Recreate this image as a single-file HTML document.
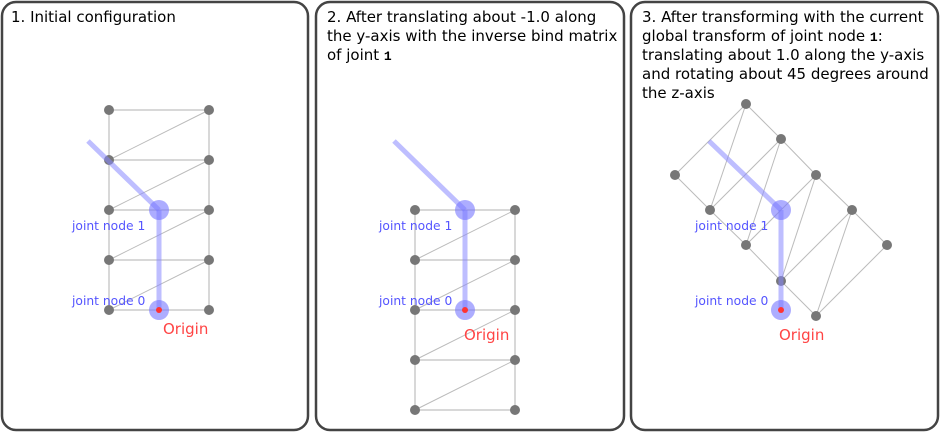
<!DOCTYPE html>
<html><head><meta charset="utf-8"><style>
html,body{margin:0;padding:0;background:#fff;}
svg{display:block;}
text{font-family:"DejaVu Sans","Liberation Sans",sans-serif;}
.t{font-size:15px;fill:#000;}
.lab{font-size:12.3px;fill:#5555ff;}
.org{font-size:15px;fill:#f44;}
.h{stroke:#d8d8d8;stroke-width:2;}
.d{stroke:#bbb;stroke-width:1;}
.n{fill:#777;}
.bone{stroke:#8888ff;stroke-opacity:0.55;stroke-width:5;stroke-linecap:butt;}
.j{fill:#7777ff;fill-opacity:0.6;}
</style></head><body>
<svg width="940" height="432" viewBox="0 0 940 432" xmlns="http://www.w3.org/2000/svg">
<rect x="2" y="2" width="306" height="428" rx="14" fill="#fff" stroke="#444" stroke-width="2.5"/>
<rect x="316" y="2" width="308" height="428" rx="14" fill="#fff" stroke="#444" stroke-width="2.5"/>
<rect x="631" y="2" width="307" height="428" rx="14" fill="#fff" stroke="#444" stroke-width="2.5"/>

<text class="t" x="11" y="22">1. Initial configuration</text>
<text class="t" x="327" y="22">2. After translating about -1.0 along</text>
<text class="t" x="327" y="41">the y-axis with the inverse bind matrix</text>
<text class="t" x="327" y="60">of joint <tspan font-family="Liberation Mono,monospace" font-weight="bold" font-size="13">1</tspan></text>
<text class="t" x="642" y="22">3. After transforming with the current</text>
<text class="t" x="642" y="41">global transform of joint node <tspan font-family="Liberation Mono,monospace" font-weight="bold" font-size="13">1</tspan>:</text>
<text class="t" x="642" y="60">translating about 1.0 along the y-axis</text>
<text class="t" x="642" y="79">and rotating about 45 degrees around</text>
<text class="t" x="642" y="98">the z-axis</text>

<!-- Panel 1 -->
<g>
<line class="h" x1="109" y1="110" x2="109" y2="310"/><line class="h" x1="209" y1="110" x2="209" y2="310"/>
<line class="h" x1="109" y1="110" x2="209" y2="110"/><line class="h" x1="109" y1="160" x2="209" y2="160"/>
<line class="h" x1="109" y1="210" x2="209" y2="210"/><line class="h" x1="109" y1="260" x2="209" y2="260"/>
<line class="h" x1="109" y1="310" x2="209" y2="310"/>
<line class="d" x1="109" y1="160" x2="209" y2="110"/><line class="d" x1="109" y1="210" x2="209" y2="160"/>
<line class="d" x1="109" y1="260" x2="209" y2="210"/><line class="d" x1="109" y1="310" x2="209" y2="260"/>
<g class="n"><circle cx="109" cy="110" r="5"/><circle cx="209" cy="110" r="5"/><circle cx="109" cy="160" r="5"/><circle cx="209" cy="160" r="5"/><circle cx="109" cy="210" r="5"/><circle cx="209" cy="210" r="5"/><circle cx="109" cy="260" r="5"/><circle cx="209" cy="260" r="5"/><circle cx="109" cy="310" r="5"/><circle cx="209" cy="310" r="5"/></g>
<line class="bone" x1="88" y1="141" x2="159" y2="210"/><line class="bone" x1="159" y1="210" x2="159" y2="310"/>
<circle class="j" cx="159" cy="210" r="10"/><circle class="j" cx="159" cy="310" r="10"/>
<circle cx="159" cy="310" r="3" fill="#f33"/>
<text class="lab" x="72" y="230">joint node 1</text>
<text class="lab" x="72" y="305">joint node 0</text>
<text class="org" x="163" y="334">Origin</text>
</g>

<!-- Panel 2 -->
<g>
<line class="h" x1="415" y1="210" x2="415" y2="410"/><line class="h" x1="515" y1="210" x2="515" y2="410"/>
<line class="h" x1="415" y1="210" x2="515" y2="210"/><line class="h" x1="415" y1="260" x2="515" y2="260"/>
<line class="h" x1="415" y1="310" x2="515" y2="310"/><line class="h" x1="415" y1="360" x2="515" y2="360"/>
<line class="h" x1="415" y1="410" x2="515" y2="410"/>
<line class="d" x1="415" y1="260" x2="515" y2="210"/><line class="d" x1="415" y1="310" x2="515" y2="260"/>
<line class="d" x1="415" y1="360" x2="515" y2="310"/><line class="d" x1="415" y1="410" x2="515" y2="360"/>
<g class="n"><circle cx="415" cy="210" r="5"/><circle cx="515" cy="210" r="5"/><circle cx="415" cy="260" r="5"/><circle cx="515" cy="260" r="5"/><circle cx="415" cy="310" r="5"/><circle cx="515" cy="310" r="5"/><circle cx="415" cy="360" r="5"/><circle cx="515" cy="360" r="5"/><circle cx="415" cy="410" r="5"/><circle cx="515" cy="410" r="5"/></g>
<line class="bone" x1="394" y1="141" x2="465" y2="210"/><line class="bone" x1="465" y1="210" x2="465" y2="310"/>
<circle class="j" cx="465" cy="210" r="10"/><circle class="j" cx="465" cy="310" r="10"/>
<circle cx="465" cy="310" r="3" fill="#f33"/>
<text class="lab" x="379" y="230">joint node 1</text>
<text class="lab" x="379" y="305">joint node 0</text>
<text class="org" x="464" y="340">Origin</text>
</g>

<!-- Panel 3 -->
<g class="d">
<line x1="675" y1="175" x2="710" y2="210"/><line x1="710" y1="210" x2="746" y2="245"/><line x1="746" y1="245" x2="781" y2="281"/><line x1="781" y1="281" x2="816" y2="316"/>
<line x1="746" y1="104" x2="781" y2="139"/><line x1="781" y1="139" x2="816" y2="175"/><line x1="816" y1="175" x2="852" y2="210"/><line x1="852" y1="210" x2="887" y2="245"/>
<line x1="675" y1="175" x2="746" y2="104"/><line x1="710" y1="210" x2="781" y2="139"/><line x1="746" y1="245" x2="816" y2="175"/><line x1="781" y1="281" x2="852" y2="210"/><line x1="816" y1="316" x2="887" y2="245"/>
<line x1="710" y1="210" x2="746" y2="104"/><line x1="746" y1="245" x2="781" y2="139"/><line x1="781" y1="281" x2="816" y2="175"/><line x1="816" y1="316" x2="852" y2="210"/>
</g>
<g class="n"><circle cx="675" cy="175" r="5"/><circle cx="710" cy="210" r="5"/><circle cx="746" cy="245" r="5"/><circle cx="781" cy="281" r="5"/><circle cx="816" cy="316" r="5"/><circle cx="746" cy="104" r="5"/><circle cx="781" cy="139" r="5"/><circle cx="816" cy="175" r="5"/><circle cx="852" cy="210" r="5"/><circle cx="887" cy="245" r="5"/></g>
<line class="bone" x1="709" y1="141" x2="781" y2="210"/><line class="bone" x1="781" y1="210" x2="781" y2="310"/>
<circle class="j" cx="781" cy="210" r="10"/><circle class="j" cx="781" cy="310" r="10"/>
<circle cx="781" cy="310" r="3" fill="#f33"/>
<text class="lab" x="695" y="230">joint node 1</text>
<text class="lab" x="695" y="305">joint node 0</text>
<text class="org" x="779" y="340">Origin</text>
</svg>
</body></html>
